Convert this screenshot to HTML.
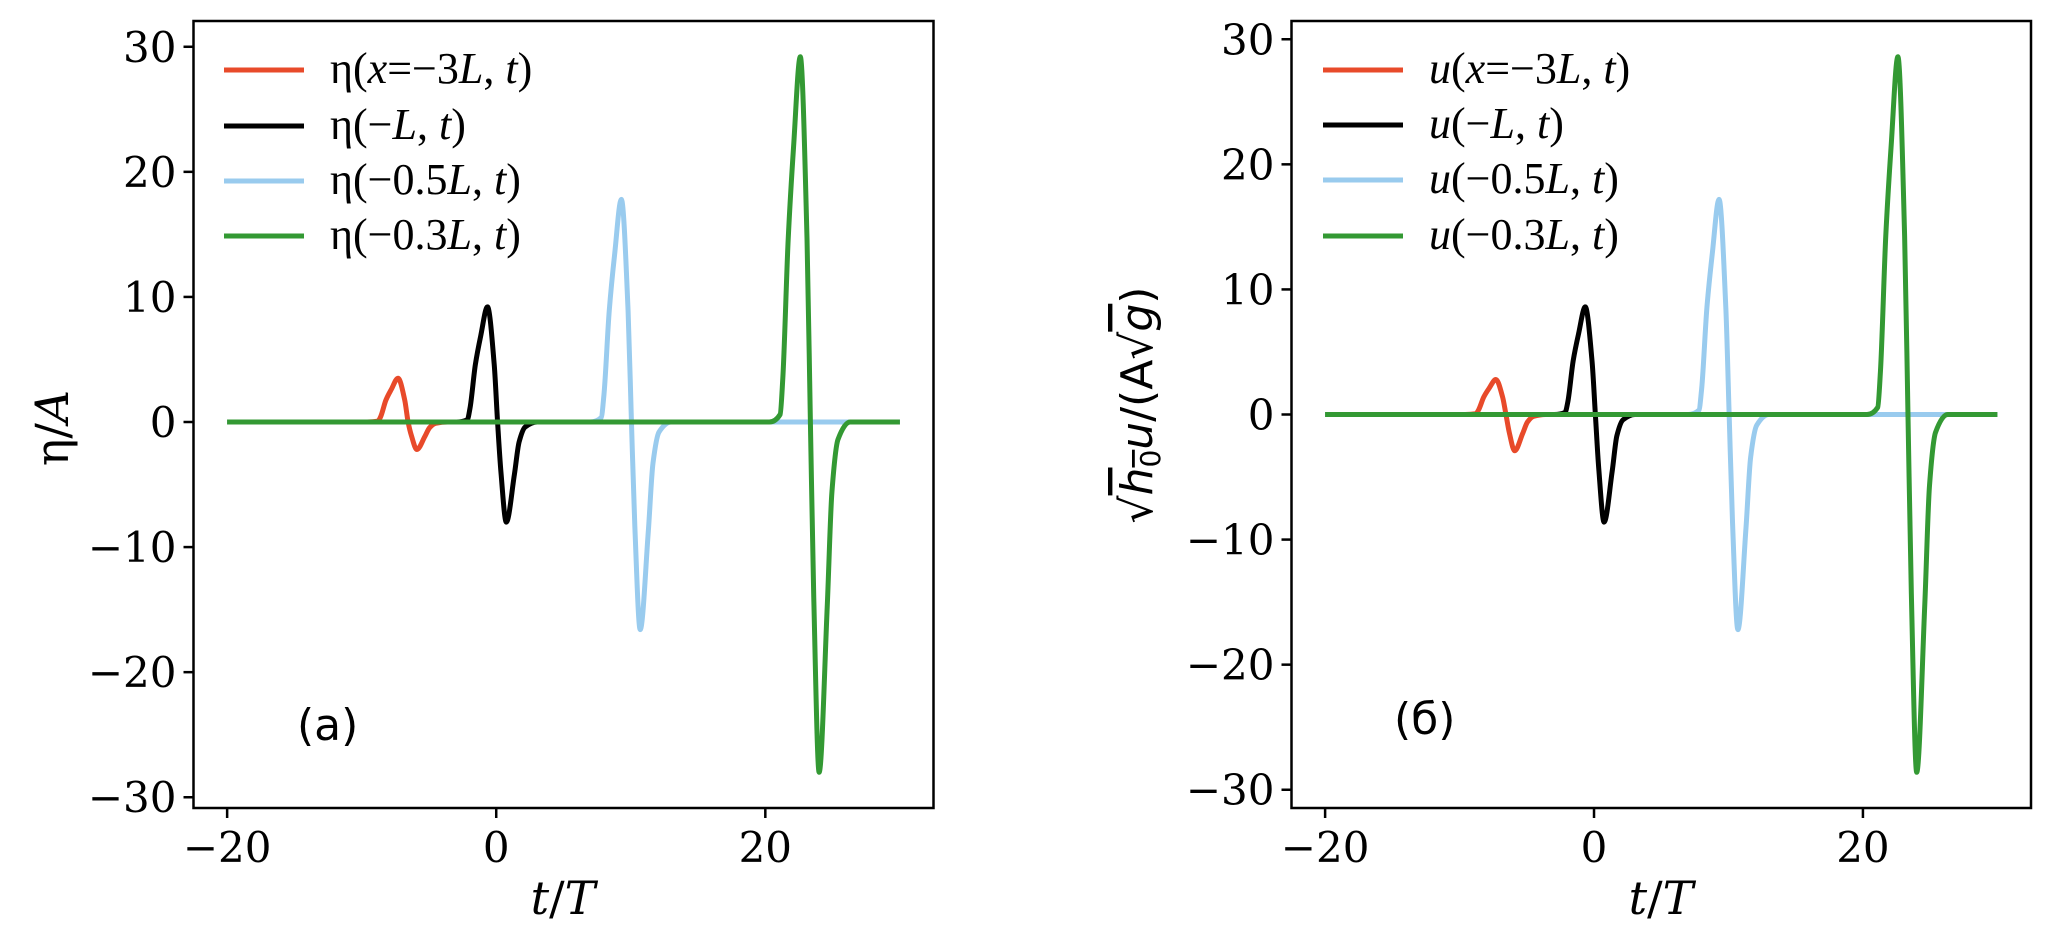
<!DOCTYPE html>
<html><head><meta charset="utf-8">
<style>
html,body{margin:0;padding:0;background:#fff;}
svg{display:block;}
.tick{font-family:"DejaVu Serif","Liberation Serif",serif;font-size:42px;fill:#000;}
.leg{font-family:"Liberation Serif",serif;font-size:44px;fill:#000;}
.lab{font-family:"DejaVu Serif","Liberation Serif",serif;font-size:46px;fill:#000;}
.panel{font-family:"DejaVu Sans","Liberation Sans",sans-serif;font-size:44px;fill:#000;}
</style></head>
<body>
<svg id="fig" width="2067" height="934" viewBox="0 0 2067 934" xmlns="http://www.w3.org/2000/svg">
<rect width="2067" height="934" fill="#fff"/>
</svg>
<script>
const NS="http://www.w3.org/2000/svg";
const xTicks=[-20,0,20];
const yTicks=[30,20,10,0,-10,-20,-30];
const tRed=[-20,-9.6,-8.8,-8.6,-8.2,-7.8,-7.3,-6.8,-6.55,-6.3,-5.9,-5.3,-4.95,-4.5,-3.6,30];
const tBlack=[-20,-2.95,-2.15,-1.95,-1.55,-1.15,-0.65,-0.15,0.1,0.35,0.75,1.35,1.7,2.15,3.05,30];
const tBlue=[-20,7.0,7.8,8.0,8.4,8.8,9.3,9.8,10.05,10.3,10.7,11.3,11.65,12.1,13.0,30];
const tGreen=[-20,20.3,21.1,21.3,21.7,22.1,22.6,23.1,23.35,23.6,24.0,24.6,24.95,25.4,26.3,30];
const etaRed=[0,0,0.07,0.4,1.75,2.6,3.5,1.75,0,-1.1,-2.2,-1.15,-0.45,-0.1,0,0];
const etaBlack=[0,0,0.18,1.1,4.6,6.9,9.2,4.6,0,-4,-8,-4.2,-1.6,-0.4,0,0];
const etaBlue=[0,0,0.35,2.1,8.9,13.4,17.8,8.9,0,-8.3,-16.6,-8.8,-3.3,-0.8,0,0];
const etaGreen=[0,0,0.6,3.5,14.6,22,29.2,14.6,0,-14,-28,-14.8,-5.6,-1.4,0,0];
const uRed=[0,0,0.06,0.34,1.4,2.1,2.8,1.4,0,-1.45,-2.9,-1.5,-0.6,-0.15,0,0];
const uBlack=[0,0,0.17,1.0,4.3,6.45,8.6,4.3,0,-4.3,-8.6,-4.55,-1.7,-0.43,0,0];
const uBlue=[0,0,0.34,2.0,8.6,12.9,17.2,8.6,0,-8.6,-17.2,-9.1,-3.4,-0.86,0,0];
const uGreen=[0,0,0.57,3.4,14.3,21.5,28.6,14.3,0,-14.3,-28.6,-15.2,-5.7,-1.43,0,0];
const colors=["#e84a2a","#000000","#99cbee","#339933"];
const names=["red","black","blue","green"];

const svg=document.getElementById('fig');
function mk(tag,attrs,parent){const e=document.createElementNS(NS,tag);for(const k in attrs)e.setAttribute(k,attrs[k]);(parent||svg).appendChild(e);return e;}

function smoothPath(xs,ys,sx,sy){
  const X=xs.map(sx),Y=ys.map(sy),n=X.length;
  const d=[],m=new Array(n);
  for(let i=0;i<n-1;i++)d.push((Y[i+1]-Y[i])/(X[i+1]-X[i]));
  m[0]=d[0];m[n-1]=d[n-2];
  for(let i=1;i<n-1;i++){
    if(d[i-1]*d[i]<=0)m[i]=0;
    else{const w1=2*(X[i+1]-X[i])+(X[i]-X[i-1]),w2=(X[i+1]-X[i])+2*(X[i]-X[i-1]);m[i]=(w1+w2)/(w1/d[i-1]+w2/d[i]);}
  }
  let p="M"+X[0].toFixed(2)+","+Y[0].toFixed(2);
  for(let i=0;i<n-1;i++){
    const h=(X[i+1]-X[i])/3;
    p+=" C"+(X[i]+h).toFixed(2)+","+(Y[i]+m[i]*h).toFixed(2)+" "+(X[i+1]-h).toFixed(2)+","+(Y[i+1]-m[i+1]*h).toFixed(2)+" "+X[i+1].toFixed(2)+","+Y[i+1].toFixed(2);
  }
  return p;
}

function panel(cfg){
  const g=mk('g',{});
  
  
  const sx=t=>cfg.x0+(t-cfg.xmin)/(cfg.xmax-cfg.xmin)*(cfg.x1-cfg.x0);
  const sy=v=>cfg.y1-(v-cfg.ymin)/(cfg.ymax-cfg.ymin)*(cfg.y1-cfg.y0);
  cfg.series.forEach((s,i)=>{
    const p=mk('path',{d:smoothPath(s.t,s.v,sx,sy),fill:'none',stroke:colors[i],'stroke-width':5,'stroke-linejoin':'round'},g);
    
    
  });
  const fr=mk('rect',{x:cfg.x0,y:cfg.y0,width:cfg.x1-cfg.x0,height:cfg.y1-cfg.y0,fill:'none',stroke:'#000','stroke-width':2.5},g);
  
  
  xTicks.forEach(t=>{
    const x=sx(t);
    mk('line',{x1:x,x2:x,y1:cfg.y1,y2:cfg.y1+10,stroke:'#000','stroke-width':2.5},g);
    const tx=mk('text',{x:x,y:862,'text-anchor':'middle',class:'tick'},g);
    tx.textContent=t<0?'\u2212'+(-t):String(t);
    
    
  });
  yTicks.forEach(v=>{
    const y=sy(v);
    mk('line',{x1:cfg.x0-10,x2:cfg.x0,y1:y,y2:y,stroke:'#000','stroke-width':2.5},g);
    const tx=mk('text',{x:cfg.x0-17,y:y+15,'text-anchor':'end',class:'tick'},g);
    tx.textContent=v<0?'\u2212'+(-v):String(v);
    
    
  });
  cfg.legend.forEach((lab,i)=>{
    const y=cfg.legY[i];
    const ln=mk('line',{x1:cfg.legX,x2:cfg.legX+80,y1:y,y2:y,stroke:colors[i],'stroke-width':5},g);
    
    
    const tx=mk('text',{x:cfg.legX+106,y:y+13,class:'leg'},g);
    tx.innerHTML=lab;
    
    
  });
}

const I=s=>'<tspan font-style="italic">'+s+'</tspan>';
const legA=['\u03b7('+I('x')+'=\u22123'+I('L')+', '+I('t')+')','\u03b7(\u2212'+I('L')+', '+I('t')+')','\u03b7(\u22120.5'+I('L')+', '+I('t')+')','\u03b7(\u22120.3'+I('L')+', '+I('t')+')'];
const legB=[I('u')+'('+I('x')+'=\u22123'+I('L')+', '+I('t')+')',I('u')+'(\u2212'+I('L')+', '+I('t')+')',I('u')+'(\u22120.5'+I('L')+', '+I('t')+')',I('u')+'(\u22120.3'+I('L')+', '+I('t')+')'];

panel({id:'panel-a',x0:193.5,x1:933.5,y0:21,y1:808,xmin:-22.5,xmax:32.5,ymin:-30.86,ymax:32.06,
  series:[{t:tRed,v:etaRed},{t:tBlack,v:etaBlack},{t:tBlue,v:etaBlue},{t:tGreen,v:etaGreen}],
  legend:legA,legX:224,legY:[70,126,181,236]});
panel({id:'panel-b',x0:1291.5,x1:2031,y0:21,y1:808,xmin:-22.5,xmax:32.5,ymin:-31.46,ymax:31.46,
  series:[{t:tRed,v:uRed},{t:tBlack,v:uBlack},{t:tBlue,v:uBlue},{t:tGreen,v:uGreen}],
  legend:legB,legX:1323,legY:[70,125,180,236]});

function txt(attrs,html,name){const e=mk('text',attrs);e.innerHTML=html;return e;}
txt({x:563,y:914,'text-anchor':'middle',class:'lab'},I('t')+'/'+I('T'),'x-axis-title-a');
txt({x:1661,y:914,'text-anchor':'middle',class:'lab'},I('t')+'/'+I('T'),'x-axis-title-b');
txt({x:0,y:0,'text-anchor':'middle',class:'lab',transform:'translate(68,428) rotate(-90)'},'\u03b7/'+I('A'),'y-axis-title-a');
txt({x:0,y:0,'text-anchor':'middle',class:'panel',transform:'translate(1152,405) rotate(-90)','font-size':'42'},'\u221a<tspan text-decoration="overline" font-style="italic">h</tspan><tspan font-size="28" dy="8" text-decoration="overline">0</tspan><tspan dy="-8" font-style="italic">u</tspan>/(A\u221a<tspan font-style="italic" text-decoration="overline">g</tspan>)','y-axis-title-b');
txt({x:297,y:740,class:'panel'},'(a)','panel-label-a');
txt({x:1394,y:734,class:'panel'},'(б)','panel-label-b');
</script>
</body></html>
